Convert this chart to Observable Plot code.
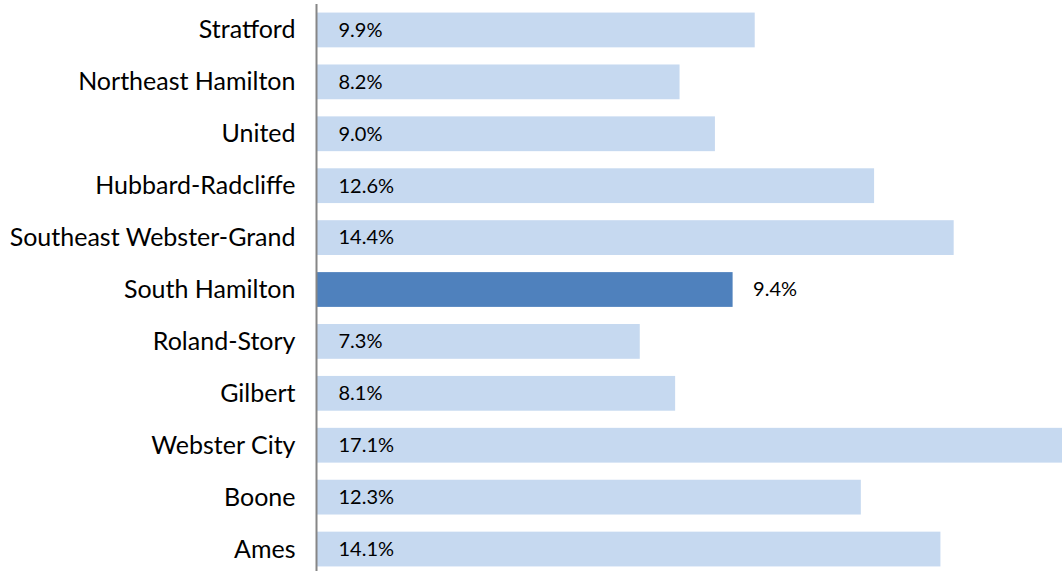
<!DOCTYPE html>
<html>
<head>
<meta charset="utf-8">
<script src="https://cdn.jsdelivr.net/npm/d3@7"></script>
<script src="https://cdn.jsdelivr.net/npm/@observablehq/plot@0.6"></script>
<style>
  html, body { margin: 0; padding: 0; background: #fff; overflow: hidden; }
  #chart svg { display: block; }
</style>
</head>
<body>
<div id="chart"></div>
<script>
const districts = ["Stratford", "Northeast Hamilton", "United", "Hubbard-Radcliffe", "Southeast Webster-Grand", "South Hamilton", "Roland-Story", "Gilbert", "Webster City", "Boone", "Ames"];
const rates = [9.9, 8.2, 9.0, 12.6, 14.4, 9.4, 7.3, 8.1, 17.1, 12.3, 14.1];
const highlighted = "South Hamilton";

const data = districts.map((d, i) => ({district: d, rate: rates[i], hi: d === highlighted}));

const font = "Lato, 'Open Sans', sans-serif";

const chart = Plot.plot({
  width: 1062,
  height: 575,
  marginLeft: 317,
  marginRight: 0,
  marginTop: 4,
  marginBottom: 0,
  style: {fontFamily: font, background: "#fff", overflow: "hidden"},
  x: {domain: [0, 16.85], axis: null},
  y: {domain: districts, paddingInner: 0.33, paddingOuter: 0.165, round: false, label: null},
  marks: [
    Plot.barX(data, {
      y: "district", x: "rate",
      fill: d => d.hi ? "#4f81bd" : "#c6d9f0",
      clip: true
    }),
    Plot.text(data.filter(d => !d.hi), {
      y: "district", x: 0,
      text: d => d.rate.toFixed(1) + "%",
      textAnchor: "start", dx: 21, fontSize: 20, fill: "#000"
    }),
    Plot.text(data.filter(d => d.hi), {
      y: "district", x: "rate",
      text: d => d.rate.toFixed(1) + "%",
      textAnchor: "start", dx: 20, fontSize: 20, fill: "#000"
    }),
    Plot.ruleX([0], {stroke: "#868686", strokeWidth: 2, dx: -1}),
    Plot.axisY({tickSize: 0, tickPadding: 22, fontSize: 25, label: null, fill: "#000"})
  ]
});
document.getElementById("chart").appendChild(chart);
</script>
</body>
</html>
